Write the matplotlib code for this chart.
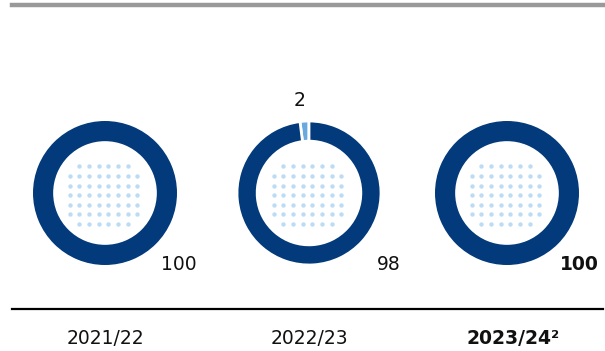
import matplotlib.pyplot as plt
import numpy as np

years = ['2021/22', '2022/23', '2023/24²']
main_share = [100, 98, 100]
other_share = [0, 2, 0]

dark_blue = '#023a7b'
light_blue = '#6aa9dc'
dot_blue = '#bcdcf5'

fig = plt.figure(figsize=(6.05, 3.51), dpi=100)
plt.rcParams['font.family'] = 'DejaVu Sans'

W, H = 605, 351
centers_x = [105, 309, 507]
cy, r = 193, 72

# top grey rule and bottom black rule
fig.add_artist(plt.Line2D([12 / W, 603 / W], [1 - 4.5 / H, 1 - 4.5 / H], color='#999999', lw=3.2))
fig.add_artist(plt.Line2D([12 / W, 603 / W], [1 - 308.5 / H, 1 - 308.5 / H], color='black', lw=1.6))

gx, gy = np.meshgrid(np.arange(-3.5, 4.5, 1) * 0.134, np.arange(-3, 4, 1) * 0.134)
inside = gx ** 2 + gy ** 2 < 0.56 ** 2

for i, cx in enumerate(centers_x):
    ax = fig.add_axes([(cx - r) / W, (H - cy - r) / H, 2 * r / W, 2 * r / H])
    vals = [other_share[i], main_share[i]]
    cols = [light_blue, dark_blue]
    if other_share[i] == 0:
        vals, cols = [main_share[i]], [dark_blue]
    ax.pie(vals, colors=cols, startangle=90, counterclock=True, radius=1,
           wedgeprops=dict(width=0.28, edgecolor='white', linewidth=2 if len(vals) > 1 else 0))
    ax.scatter(gx[inside] - 0.02, gy[inside] - 0.03, s=10, color=dot_blue, linewidths=0)
    ax.set_xlim(-1, 1)
    ax.set_ylim(-1, 1)
    ax.set_aspect('auto')
    ax.axis('off')

    bold = 'bold' if i == 2 else 'normal'
    fig.text((cx + 92) / W, 1 - 265 / H, str(main_share[i]), ha='right', va='center',
             fontsize=13.5, fontweight=bold, color='#111111')
    if other_share[i]:
        fig.text((cx - 9) / W, 1 - 101 / H, str(other_share[i]), ha='center', va='center',
                 fontsize=13.5, color='#111111')
    fig.text((cx + (6 if i == 2 else 0)) / W, 1 - 338 / H, years[i], ha='center', va='center',
             fontsize=13.5, fontweight=bold, color='#111111')

fig.savefig('out.png', dpi=100)
